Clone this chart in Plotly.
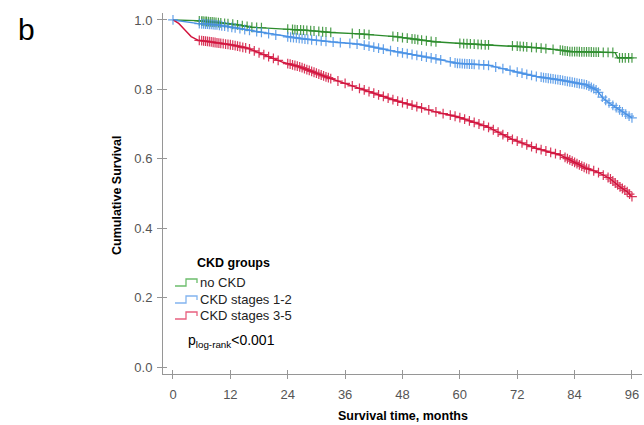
import numpy as np
import plotly.graph_objects as go

# ---------------- data ----------------
groups = ["no CKD", "CKD stages 1-2", "CKD stages 3-5"]

green_t = [0, 5, 9, 13.5, 16.5, 23, 28, 33, 39, 46.5, 54.7, 59.5, 65.8, 71.5, 76, 81, 83, 92.5, 93, 96]
green_s = [1.0, 0.998, 0.993, 0.986, 0.979, 0.974, 0.970, 0.964, 0.960, 0.952, 0.937, 0.933, 0.928,
           0.925, 0.920, 0.913, 0.909, 0.906, 0.891, 0.891]

blue_t = [0, 5, 9, 13.5, 16.5, 23, 27, 33, 39, 46.5, 54.7, 59.5, 65.8, 71, 76, 81, 86.5, 88.6, 90,
          91.3, 93.4, 95, 96]
blue_s = [1.0, 0.990, 0.986, 0.976, 0.969, 0.953, 0.946, 0.937, 0.930, 0.909, 0.889, 0.875, 0.870,
          0.853, 0.837, 0.827, 0.813, 0.798, 0.774, 0.760, 0.741, 0.726, 0.718]

red_t = [0, 1.2, 2.5, 3.8, 5.2, 8.8, 12.3, 15.7, 19.2, 23, 26.5, 32.8, 39, 46.5, 54.7, 59.5, 65.8, 71,
         76, 81, 84.4, 86.5, 88.6, 91.3, 93.4, 95, 96]
red_s = [1.0, 0.990, 0.971, 0.952, 0.942, 0.935, 0.928, 0.918, 0.899, 0.878, 0.865, 0.832, 0.803,
         0.768, 0.736, 0.721, 0.692, 0.656, 0.630, 0.611, 0.587, 0.572, 0.563, 0.544, 0.520, 0.505,
         0.491]

green_cens = [5.5, 6, 6.3, 6.7, 7, 7.4, 7.8, 8.2, 8.6, 9, 9.5, 10, 10.8, 11.5, 12.5, 13.5, 14.5, 15.5,
              16.5, 17.5, 18.5, 24, 25, 25.5, 26, 26.7, 27.3, 28, 28.8, 29.5, 30.5, 31.3, 32, 33,
              37.5, 39, 40, 41, 46, 47, 48, 49, 50, 50.6, 51.2, 52, 53, 54, 55, 60, 60.8, 61.5, 62.2,
              63, 63.8, 64.5, 65.3, 66, 71, 72, 72.6, 73.3, 74, 75, 76, 77, 78, 79.5, 81, 81.5, 82,
              82.5, 83, 83.5, 84, 84.5, 85, 85.5, 86, 86.5, 87, 87.5, 88, 88.5, 89, 90, 91, 92,
              93.4, 94, 94.6, 95.3, 96]
blue_cens = [0, 5.5, 6, 6.4, 6.8, 7.2, 7.6, 8, 8.4, 8.8, 9.2, 9.7, 10.2, 10.8, 11.5, 12.3, 13, 14, 15, 16,
             17.5, 18.5, 20, 21.5, 24, 24.6, 25.2, 25.8, 26.4, 27, 27.6, 28.2, 29, 30, 31, 32, 33.5,
             35, 37, 38.5, 40, 41, 42, 43, 44, 45.5, 47, 48, 49, 50, 51, 52, 53, 54, 55, 56, 58, 59,
             59.5, 60, 60.5, 61, 61.5, 62, 62.5, 63, 64, 65, 66, 67.5, 69, 70.5, 72, 73, 74, 75, 76,
             77, 77.5, 78, 78.5, 79, 79.5, 80, 80.5, 81, 81.5, 82, 82.5, 83, 83.5, 84, 84.5, 85,
             85.5, 86, 86.5, 87, 87.5, 88, 88.5, 89, 89.8, 90.5, 91.2, 92, 92.7, 93.4, 94, 94.7,
             95.4, 96]
red_cens = [5.5, 6, 6.4, 6.8, 7.2, 7.6, 8, 8.4, 8.8, 9.2, 9.6, 10, 10.5, 11, 11.5, 12, 12.5, 13, 13.5,
            14, 14.6, 15.2, 16, 17, 18, 19, 20, 21, 22, 24, 24.5, 25, 25.5, 26, 26.5, 27, 27.5, 28,
            28.5, 29, 29.5, 30, 30.5, 31, 31.5, 32, 32.5, 33, 34.5, 36, 37.5, 39, 40, 41, 42, 43, 44,
            45, 46, 47, 48, 49, 50, 51, 52, 53.5, 55, 56.5, 58, 59, 60, 61, 62, 63, 64, 65, 66, 67,
            68, 69, 70, 71, 72, 73, 74, 75, 76, 77, 78, 79, 80, 81, 82, 82.5, 83, 83.5, 84, 84.5, 85,
            85.5, 86, 86.5, 87, 88, 89, 90, 91, 91.5, 92, 92.5, 93, 93.5, 94, 94.5, 95, 95.5, 96]

x_ticks = [0, 12, 24, 36, 48, 60, 72, 84, 96]
y_ticks = [0.0, 0.2, 0.4, 0.6, 0.8, 1.0]
y_ticklabels = ["0.0", "0.2", "0.4", "0.6", "0.8", "1.0"]

# ---------------- styles ----------------
line_colors = ["#2c8c2c", "#4a92e6", "#d2123c"]
legend_colors = ["#6cbd6c", "#82b4ef", "#e8607f"]
FONT = "Arial, Liberation Sans, sans-serif"

W, H = 644, 425
L, R, T, B = 163, 2, 13, 51
PW, PH = W - L - R, H - T - B


def px(x):
    return (x - L) / PW


def py(y):
    return (H - B - y) / PH


fig = go.Figure()

series = [(green_t, green_s, green_cens), (blue_t, blue_s, blue_cens), (red_t, red_s, red_cens)]
for (t, s, c), col, name in zip(series, line_colors, groups):
    fig.add_trace(go.Scatter(x=t, y=s, mode="lines", line=dict(color=col, width=1.4),
                             name=name, showlegend=False, hoverinfo="skip"))
for (t, s, c), col, name in zip(series, line_colors, groups):
    fig.add_trace(go.Scatter(x=c, y=np.interp(c, t, s), mode="markers",
                             marker=dict(symbol="cross-thin", size=7,
                                         line=dict(color=col, width=1.2)),
                             name=name + " censored", showlegend=False, hoverinfo="skip",
                             opacity=0.85))

# dummy trace for overlay axes (inside ticks -> crossing ticks)
fig.add_trace(go.Scatter(x=[None], y=[None], xaxis="x2", yaxis="y2", showlegend=False))

xr = [-2.09, 98.1]
yr = [-0.020, 1.020]
axis_col = "#969696"

fig.update_layout(
    width=W, height=H,
    margin=dict(l=L, r=R, t=T, b=B),
    plot_bgcolor="white", paper_bgcolor="white",
    font=dict(family=FONT, size=13, color="#555555"),
    xaxis=dict(range=xr, tickvals=x_ticks, ticktext=[str(v) for v in x_ticks],
               showgrid=False, zeroline=False, showline=True, linecolor=axis_col, linewidth=1,
               ticks="outside", ticklen=4, tickcolor=axis_col, tickwidth=1,
               tickfont=dict(size=13, color="#555555"), ticklabelstandoff=4),
    yaxis=dict(range=yr, tickvals=y_ticks, ticktext=y_ticklabels,
               showgrid=False, zeroline=False, showline=True, linecolor=axis_col, linewidth=1,
               ticks="outside", ticklen=5, tickcolor=axis_col, tickwidth=1,
               tickfont=dict(size=13, color="#555555"), ticklabelstandoff=2),
    xaxis2=dict(range=xr, overlaying="x", anchor="y2", side="bottom", tickvals=x_ticks,
                showticklabels=False, showgrid=False, zeroline=False, showline=False,
                ticks="inside", ticklen=4, tickcolor=axis_col, tickwidth=1),
    yaxis2=dict(range=yr, overlaying="y", anchor="x2", side="left", tickvals=y_ticks,
                showticklabels=False, showgrid=False, zeroline=False, showline=False,
                ticks="inside", ticklen=4, tickcolor=axis_col, tickwidth=1),
)

ann = []
# panel letter
ann.append(dict(text="b", x=px(26), y=py(29), xref="paper", yref="paper", showarrow=False,
                font=dict(size=30, color="black", family=FONT), xanchor="center", yanchor="middle"))
# axis titles
ann.append(dict(text="<b>Survival time, months</b>", x=px(402.5), y=py(416), xref="paper",
                yref="paper", showarrow=False, font=dict(size=12.5, color="black", family=FONT),
                xanchor="center", yanchor="middle"))
ann.append(dict(text="<b>Cumulative Survival</b>", x=px(117), y=py(195), xref="paper",
                yref="paper", showarrow=False, textangle=-90,
                font=dict(size=12.5, color="black", family=FONT),
                xanchor="center", yanchor="middle"))
# legend
ann.append(dict(text="<b>CKD groups</b>", x=px(195), y=py(263), xref="paper", yref="paper",
                showarrow=False, font=dict(size=12.5, color="black", family=FONT),
                xanchor="left", yanchor="middle"))
leg_y = [282, 299, 315]
shapes = []
for name, col, yy in zip(groups, legend_colors, leg_y):
    ann.append(dict(text=name, x=px(197.5), y=py(yy), xref="paper", yref="paper",
                    showarrow=False, font=dict(size=13, color="#222222", family=FONT),
                    xanchor="left", yanchor="middle"))
    x0, x1, x2 = px(175), px(186), px(197)
    ylo, yhi, yend = py(yy + 4), py(yy - 3), py(yy + 1)
    path = f"M {x0} {ylo} L {x1} {ylo} L {x1} {yhi} L {x2} {yhi} L {x2} {yend}"
    shapes.append(dict(type="path", path=path, xref="paper", yref="paper",
                       line=dict(color=col, width=1.3)))
ann.append(dict(text="p<sub>log-rank</sub>&lt;0.001", x=px(186), y=py(341), xref="paper",
                yref="paper", showarrow=False, font=dict(size=14, color="black", family=FONT),
                xanchor="left", yanchor="middle"))

fig.update_layout(annotations=ann, shapes=shapes)
fig.write_html("out.html", config={"displayModeBar": False},
               post_script="document.body.style.margin='0';document.body.style.overflow='hidden';")
